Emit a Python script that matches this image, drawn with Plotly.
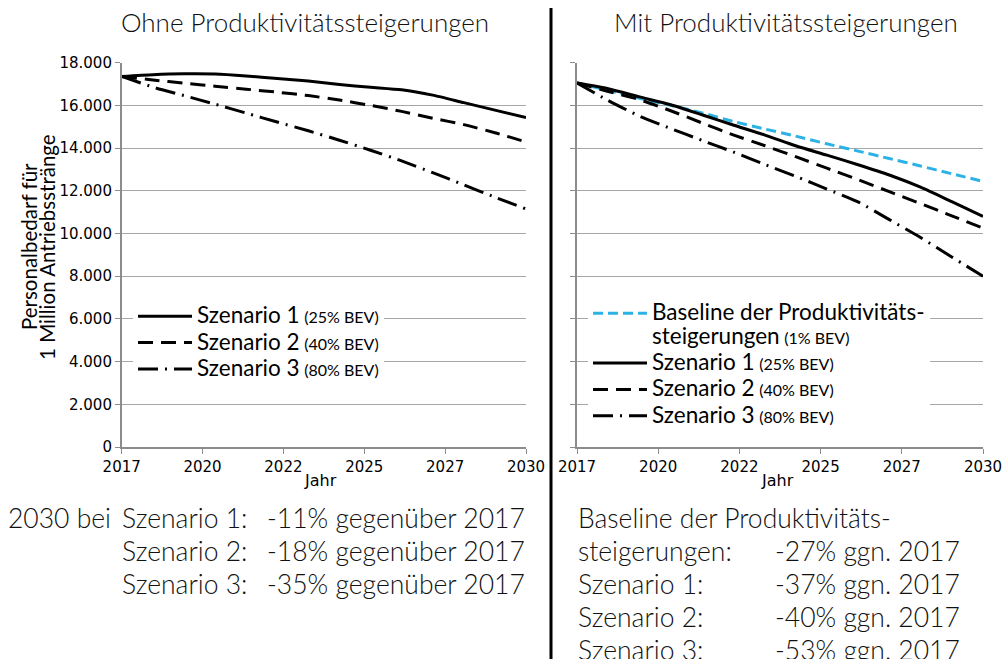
import numpy as np
import plotly.graph_objects as go

# ---------------- data ----------------
years = list(range(2017, 2031))
tick_labels = ["2017", "2020", "2022", "2025", "2027", "2030"]

ohne_s1 = [17359, 17440, 17480, 17470, 17380, 17260, 17140, 16980, 16850, 16730, 16480, 16130, 15780, 15430]
ohne_s2 = [17359, 17190, 17040, 16900, 16760, 16620, 16460, 16250, 16000, 15720, 15400, 15100, 14720, 14290]
ohne_s3 = [17359, 16859, 16460, 16060, 15640, 15220, 14810, 14370, 13900, 13400, 12850, 12280, 11700, 11150]

mit_base = [17047, 16700, 16330, 16000, 15650, 15250, 14900, 14560, 14200, 13860, 13510, 13160, 12800, 12440]
mit_s1 = [17047, 16780, 16400, 16030, 15560, 15080, 14620, 14110, 13670, 13220, 12740, 12170, 11490, 10800]
mit_s2 = [17047, 16650, 16270, 15750, 15180, 14620, 14120, 13600, 13060, 12520, 11960, 11400, 10830, 10250]
mit_s3 = [17047, 16230, 15500, 14920, 14360, 13820, 13240, 12680, 12080, 11480, 10650, 9810, 8900, 8000]

names_s = ["Szenario 1", "Szenario 2", "Szenario 3"]
names_bev = ["(25% BEV)", "(40% BEV)", "(80% BEV)"]
base_name = ["Baseline der Produktivitäts-", "steigerungen", "(1% BEV)"]

left_title = "Ohne Produktivitätssteigerungen"
right_title = "Mit Produktivitätssteigerungen"
ytitle_lines = ["Personalbedarf für", "1 Million Antriebsstränge"]
xtitle = "Jahr"

left_notes_lead = "2030 bei"
left_notes_labels = ["Szenario 1:", "Szenario 2:", "Szenario 3:"]
left_notes_values = ["-11% gegenüber 2017", "-18% gegenüber 2017", "-35% gegenüber 2017"]
right_notes_labels = ["Baseline der Produktivitäts-", "steigerungen:", "Szenario 1:", "Szenario 2:", "Szenario 3:"]
right_notes_values = ["", "-27% ggn. 2017", "-37% ggn. 2017", "-40% ggn. 2017", "-53% ggn. 2017"]

# ---------------- styling ----------------
W, H = 1003, 659
TXT = "Lato"
TICK = "DejaVu Sans"
BLUE = "#2cb2e4"
dash_s2 = "15px,8px"
dash_s3 = "20px,7px,2px,7px"
dash_base = "10px,5px"


def px(x):
    return x / W


def py(y):
    return 1 - y / H


fig = go.Figure()


def big(t):
    return f"<span style='font-size:22.5px'>{t}</span>"


def small(t):
    return f"<span style='font-size:16px'>{t}</span>"


def leg_name(i):
    return f"{big(names_s[i])} {small(names_bev[i])}"


styles = [dict(color="black", width=3), dict(color="black", width=3, dash=dash_s2),
          dict(color="black", width=3, dash=dash_s3)]

for i, ys in enumerate([ohne_s1, ohne_s2, ohne_s3]):
    fig.add_trace(go.Scatter(x=years, y=ys, mode="lines", name=leg_name(i),
                             line=dict(shape="spline", smoothing=0.6, **styles[i]),
                             xaxis="x", yaxis="y", legend="legend"))

fig.add_trace(go.Scatter(x=years, y=mit_base, mode="lines",
                         name=f"{big(base_name[0])}<br>{big(base_name[1])} {small(base_name[2])}",
                         line=dict(color=BLUE, width=3, dash=dash_base, shape="spline", smoothing=0.6),
                         xaxis="x2", yaxis="y2", legend="legend2"))
for i, ys in enumerate([mit_s1, mit_s2, mit_s3]):
    fig.add_trace(go.Scatter(x=years, y=ys, mode="lines", name=leg_name(i),
                             line=dict(shape="spline", smoothing=0.6, **styles[i]),
                             xaxis="x2", yaxis="y2", legend="legend2"))

tickvals = list(np.linspace(years[0], years[-1], len(tick_labels)))

xcommon = dict(range=[years[0], years[-1]], showgrid=False, zeroline=False, showline=True,
               linecolor="#8c8c8c", linewidth=1.5, ticks="outside", ticklen=5, tickcolor="#8c8c8c",
               tickvals=tickvals, ticktext=tick_labels, automargin=False,
               tickfont=dict(family=TICK, size=15, color="black"))
ycommon = dict(range=[0, 18000], dtick=2000, tickformat=",", showgrid=True, gridcolor="#a6a6a6",
               gridwidth=1, zeroline=False, showline=True, linecolor="#8c8c8c", linewidth=1.5,
               ticks="outside", ticklen=5, tickcolor="#8c8c8c", automargin=False,
               tickfont=dict(family=TICK, size=15, color="black"))

ydom = [py(447), py(62.7)]
fig.update_layout(
    width=W, height=H, margin=dict(l=0, r=0, t=0, b=0, pad=0, autoexpand=False),
    paper_bgcolor="white", plot_bgcolor="white", separators=",.",
    xaxis=dict(domain=[px(121.7), px(526)], anchor="y", **xcommon),
    xaxis2=dict(domain=[px(577), px(983)], anchor="y2", **xcommon),
    yaxis=dict(domain=ydom, anchor="x", **ycommon),
    yaxis2=dict(domain=ydom, anchor="x2", showticklabels=False, **ycommon),
    legend=dict(x=px(133), y=py(298), xanchor="left", yanchor="top", bgcolor="white",
                font=dict(family=TXT, size=18, color="black"), itemwidth=54, tracegroupgap=0,
                borderwidth=0),
    legend2=dict(x=px(588), y=py(295), xanchor="left", yanchor="top", bgcolor="white",
                 font=dict(family=TXT, size=18, color="black"), itemwidth=54, tracegroupgap=0,
                 borderwidth=0, valign="top"),
    showlegend=True,
)

ann = []
light = 300
for xx, t in [(305, left_title), (786, right_title)]:
    ann.append(dict(text=t, x=px(xx), y=py(22), xref="paper", yref="paper", showarrow=False,
                    xanchor="center", yanchor="middle",
                    font=dict(family=TXT, size=26, color="#111", weight=light)))
for xx, line in zip([29, 47], ytitle_lines):
    ann.append(dict(text=line, x=px(xx), y=py(247), xref="paper", yref="paper", showarrow=False,
                    xanchor="center", yanchor="middle",
                    textangle=-90, font=dict(family=TXT, size=20.5, color="black")))
for xx in [320, 777]:
    ann.append(dict(text=xtitle, x=px(xx), y=py(480), xref="paper", yref="paper", showarrow=False,
                    xanchor="center", yanchor="middle",
                    font=dict(family=TICK, size=16, color="black")))

# bottom notes
note_font = dict(family=TXT, size=26.5, color="#111", weight=light)
ann.append(dict(text=left_notes_lead, x=px(6), y=py(518), xref="paper", yref="paper", showarrow=False,
                xanchor="left", yanchor="middle", font=note_font))
for k, (lab, val) in enumerate(zip(left_notes_labels, left_notes_values)):
    yy = 518 + 33 * k
    ann.append(dict(text=lab, x=px(120), y=py(yy), xref="paper", yref="paper", showarrow=False,
                    xanchor="left", yanchor="middle", font=note_font))
    ann.append(dict(text=val, x=px(265), y=py(yy), xref="paper", yref="paper", showarrow=False,
                    xanchor="left", yanchor="middle", font=note_font))
for k, (lab, val) in enumerate(zip(right_notes_labels, right_notes_values)):
    yy = 518 + 33 * k
    ann.append(dict(text=lab, x=px(576), y=py(yy), xref="paper", yref="paper", showarrow=False,
                    xanchor="left", yanchor="middle", font=note_font))
    if val:
        ann.append(dict(text=val, x=px(773), y=py(yy), xref="paper", yref="paper", showarrow=False,
                        xanchor="left", yanchor="middle", font=note_font))
fig.update_layout(annotations=ann)

fig.add_shape(type="line", xref="paper", yref="paper", x0=px(551), x1=px(551), y0=0, y1=py(8),
              line=dict(color="black", width=3))

fig.write_html("out.html", config={"displayModeBar": False},
               post_script="document.body.style.margin='0px';document.body.style.overflow='hidden';")
